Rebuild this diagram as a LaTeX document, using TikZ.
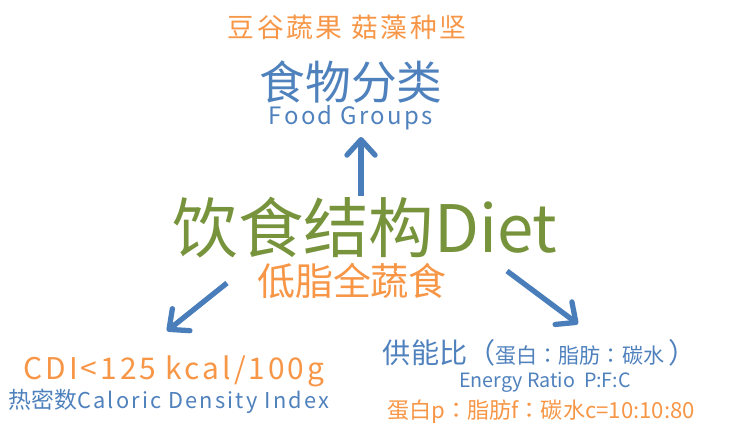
\documentclass[tikz,border=0pt]{standalone}
\usepackage{fontspec}
\setmainfont{Noto Sans CJK SC}
\newfontfamily\spacedfont[LetterSpace=10]{Noto Sans CJK SC}
\newfontfamily\colonfont{Noto Sans CJK TC}
\usetikzlibrary{arrows.meta}
\definecolor{dietgreen}{HTML}{77933C}
\definecolor{noteorange}{HTML}{F79646}
\definecolor{labelblue}{HTML}{4F81BD}
\definecolor{arrowblue}{HTML}{4A7EBB}
\newcommand{\fs}[1]{\fontsize{#1}{#1}\selectfont}
\newcommand{\cc}{{\colonfont ：}}
\begin{document}
\begin{tikzpicture}[x=0.01cm, y=-0.01cm,
    txt/.style={inner sep=0pt, anchor=center},
    title/.style={txt, text=dietgreen, font=\fs{18.6}},
    note/.style={txt, text=noteorange},
    label/.style={txt, text=labelblue},
    line/.style={draw=arrowblue, line width=1.5pt, -{Straight Barb[length=4.4pt, width=8pt, round]}}]
    \useasboundingbox (0,0) rectangle (746,436);

    \node [title] (diet) at (365,228) {饮食结构Diet};
    \node [note, font=\fs{10.8}] (lowfat) at (352,281) {低脂全蔬食};

    \node [note, font=\spacedfont\fs{7.6}] (kinds) at (347,27) {豆谷蔬果 菇藻种坚};
    \node [label, font=\fs{13}] (groups) at (351,82) {食物分类};
    \node [label, font=\spacedfont\fs{6.8}] (groups_en) at (351,118) {Food Groups};

    \node [note, font=\spacedfont\fs{8.5}] (cdi) at (174,371) {CDI<125 kcal/100g};
    \node [label] (cdi_en) at (169,401) {{\fs{6.5}热密数}{\spacedfont\fs{6.2}Caloric Density Index}};

    \node [label] (ratio) at (540,353) {{\fs{8}供能比（}{\fs{6}蛋白\cc 脂肪\cc 碳水 }{\fs{8}）}};
    \node [label, font=\fs{5.6}] (ratio_en) at (545,382) {Energy Ratio\ \ P:F:C};
    \node [note, font=\fs{6.3}] (ratio_val) at (541,412) {蛋白p\cc 脂肪f\cc 碳水c=10:10:80};

    \coordinate (up_from) at (361,196);
    \coordinate (up_to) at (361,137);
    \coordinate (left_from) at (227,283);
    \coordinate (left_to) at (167,331);
    \coordinate (right_from) at (507,271);
    \coordinate (right_to) at (578,324);

    \path [line] (up_from) -- (up_to);
    \path [line] (left_from) -- (left_to);
    \path [line] (right_from) -- (right_to);
\end{tikzpicture}
\end{document}
